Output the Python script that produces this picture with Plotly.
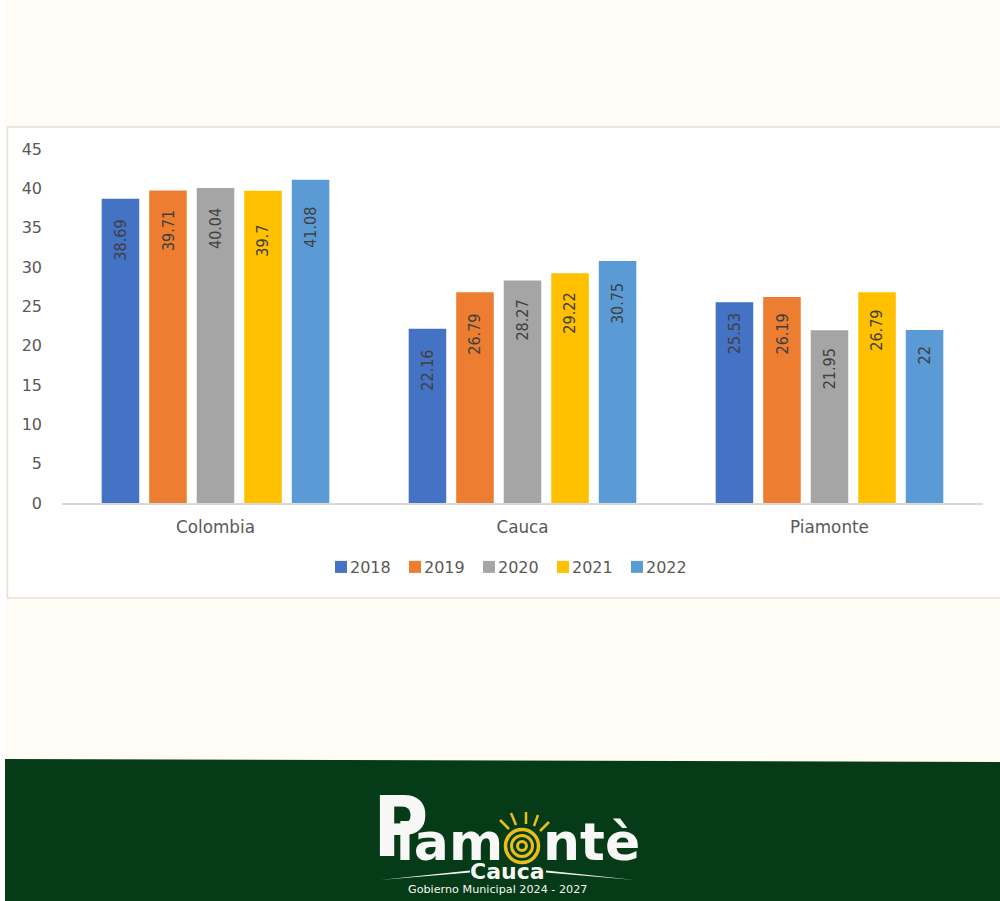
import plotly.graph_objects as go

# Values
categories = ["Colombia", "Cauca", "Piamonte"]
years = ["2018", "2019", "2020", "2021", "2022"]
values_2018 = [38.69, 22.16, 25.53]
values_2019 = [39.71, 26.79, 26.19]
values_2020 = [40.04, 28.27, 21.95]
values_2021 = [39.7, 29.22, 26.79]
values_2022 = [41.08, 30.75, 22]
y_ticks = [0, 5, 10, 15, 20, 25, 30, 35, 40, 45]

series = [values_2018, values_2019, values_2020, values_2021, values_2022]
colors = ["#4472c4", "#ed7d31", "#a5a5a5", "#ffc000", "#5b9bd5"]

# How far below the top of each bar its label starts, in pixels (per year, per category)
label_drop = [
    [19, 19, 9],
    [18, 20, 15],
    [18, 17, 16],
    [32, 18, 16],
    [25, 20, 15],
]

WIDTH, HEIGHT = 1000, 901
PLOT_LEFT, PLOT_RIGHT, PLOT_TOP, PLOT_BOTTOM = 62, 983, 149, 503
BAR_PITCH = 47.5
TEXT_GREY = "#595959"
LABEL_GREY = "#404040"
CREAM = "#fefcf4"
GREEN = "#053b16"
SUN = "#e9bd1c"
WHITE = "#f7f7f5"
CONDENSED = "DejaVu Sans Condensed, Liberation Sans"


def px(x):
    # picture pixel to paper coordinate
    return (x - PLOT_LEFT) / (PLOT_RIGHT - PLOT_LEFT)


def py(y):
    return (PLOT_BOTTOM - y) / (PLOT_BOTTOM - PLOT_TOP)


def rect(x0, y0, x1, y1, fill, line=None, width=0):
    return dict(type="rect", xref="paper", yref="paper", layer="below",
                x0=px(x0), y0=py(y0), x1=px(x1), y1=py(y1),
                fillcolor=fill, line=dict(color=line or fill, width=width))


def polygon(points, fill):
    path = "M " + " L ".join(f"{px(x)},{py(y)}" for x, y in points) + " Z"
    return dict(type="path", xref="paper", yref="paper", layer="below",
                path=path, fillcolor=fill, line=dict(width=0))


def circle(cx, cy, r, color, width):
    return dict(type="circle", xref="paper", yref="paper", layer="above",
                x0=px(cx - r), y0=py(cy + r), x1=px(cx + r), y1=py(cy - r),
                line=dict(color=color, width=width))


def stroke(x0, y0, x1, y1, color, width):
    return dict(type="line", xref="paper", yref="paper", layer="above",
                x0=px(x0), y0=py(y0), x1=px(x1), y1=py(y1),
                line=dict(color=color, width=width))


def logo_text(text, x, y, size, family="DejaVu Sans", color=WHITE):
    return dict(text=text, xref="paper", yref="paper", x=px(x), y=py(y),
                xanchor="left", yanchor="middle", showarrow=False,
                font=dict(family=family, size=size, color=color))


fig = go.Figure()

for year, vals, color in zip(years, series, colors):
    fig.add_trace(go.Bar(name=year, x=categories, y=vals, marker_color=color,
                         marker_line_width=0))

# Data labels, rotated, placed by hand in the original
annotations = []
for j, vals in enumerate(series):
    for i, v in enumerate(vals):
        annotations.append(dict(
            x=categories[i], y=v, xref="x", yref="y", text=str(v),
            xshift=(j - 2) * BAR_PITCH, yshift=-label_drop[j][i],
            yanchor="top", xanchor="center", showarrow=False, textangle=-90,
            font=dict(family=CONDENSED, size=16, color=LABEL_GREY),
        ))

# Page background and chart card
shapes = [
    rect(5, 0, 1000, 762, CREAM),
    rect(7.5, 127, 1003, 598, "#ffffff", "#e3e1d9", 1.5),
    polygon([(5, 759), (1000, 762), (1000, 901), (5, 901)], GREEN),
]

# Logo: sun with rays and the lines beside "Cauca"
sun_x, sun_y = 522, 846
for r, w in [(16.5, 3.5), (10.5, 3), (4.5, 3)]:
    shapes.append(circle(sun_x, sun_y, r, SUN, w))
for x0, y0, x1, y1 in [(500, 820, 509, 829), (511, 813, 516, 825), (526, 812, 526, 824),
                       (538, 815, 534, 826), (549, 822, 540, 831)]:
    shapes.append(stroke(x0, y0, x1, y1, SUN, 2.5))
shapes.append(polygon([(380, 880), (470, 870.5), (470, 872.5)], WHITE))
shapes.append(polygon([(635, 880), (546, 870.5), (546, 872.5)], WHITE))

annotations += [
    logo_text("<b>P</b>", 371, 827, 84, family=CONDENSED),
    logo_text("<b>iam</b>", 394, 842, 52),
    logo_text("<b>ntè</b>", 541, 842, 52),
    logo_text("<b>Cauca</b>", 468, 871, 22),
    logo_text("Gobierno Municipal 2024 - 2027", 406, 889, 11.2),
]

fig.update_layout(
    width=WIDTH, height=HEIGHT,
    margin=dict(l=PLOT_LEFT, r=WIDTH - PLOT_RIGHT, t=PLOT_TOP, b=HEIGHT - PLOT_BOTTOM,
                autoexpand=False),
    paper_bgcolor="#ffffff", plot_bgcolor="rgba(0,0,0,0)",
    font=dict(family="DejaVu Sans", size=16, color=TEXT_GREY),
    barmode="group", bargap=0.226, bargroupgap=0.21,
    showlegend=True,
    legend=dict(orientation="h", x=px(321), y=py(567), xanchor="left", yanchor="middle",
                entrywidth=29, entrywidthmode="pixels", bgcolor="rgba(0,0,0,0)",
                font=dict(size=16, color=TEXT_GREY), traceorder="normal"),
    shapes=shapes, annotations=annotations,
)
fig.update_xaxes(type="category", categoryorder="array", categoryarray=categories,
                 range=[-0.5, 2.5], showgrid=False, showline=True, linecolor="#d9d9d9",
                 linewidth=1.5, ticks="", ticklabelstandoff=8, tickfont=dict(size=16.8))
fig.update_yaxes(range=[0, 45], tickvals=y_ticks, showgrid=False, showline=False,
                 zeroline=False, ticks="", ticklabelstandoff=19, tickfont=dict(size=16))

# Plotly keeps a wide gap between legend swatch and text: pull the text in as in the reference
post_script = """
document.body.style.margin = '0';
document.querySelectorAll('.legendtext').forEach(function (t) { t.setAttribute('x', 29); });
"""
fig.write_html("out.html", post_script=post_script, config={"displayModeBar": False})
